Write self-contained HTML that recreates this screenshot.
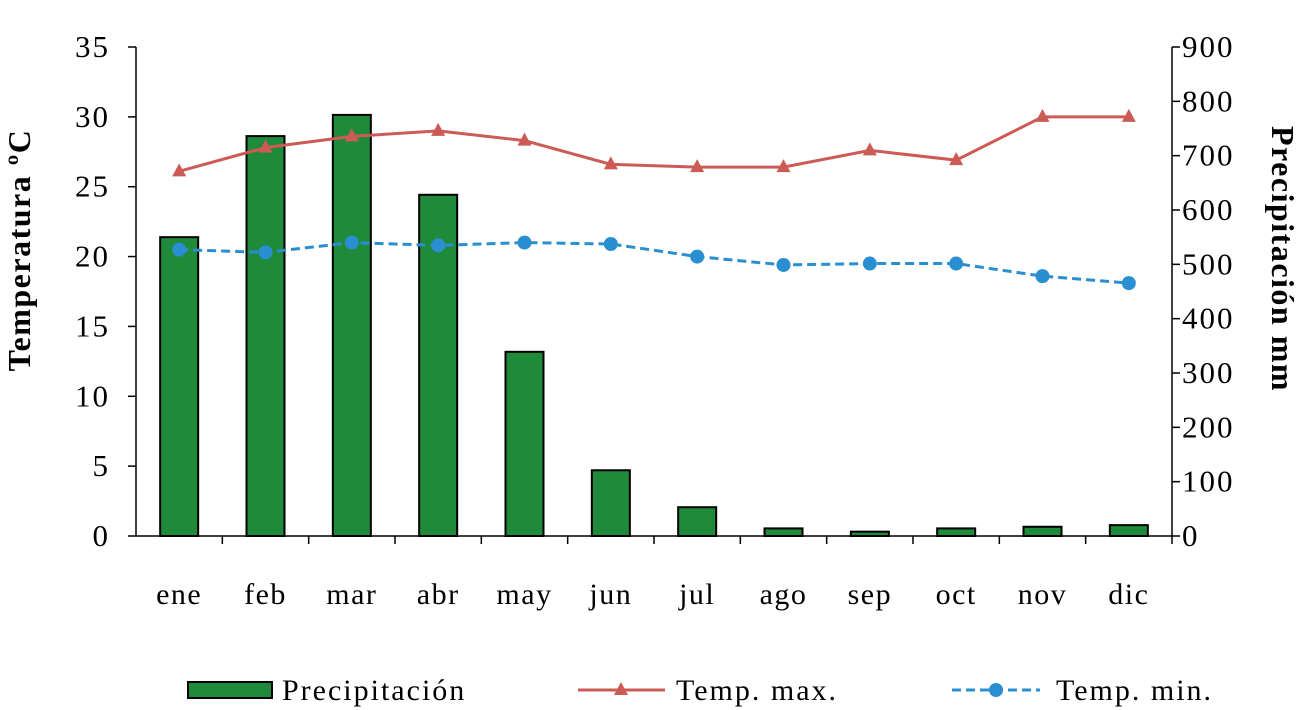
<!DOCTYPE html>
<html><head><meta charset="utf-8">
<style>
html,body{margin:0;padding:0;background:#fff;}
svg{display:block;font-family:"Liberation Serif",serif;}
</style></head>
<body>
<svg id="chart" width="1299" height="710">
</svg>
<script>
const categories=["ene","feb","mar","abr","may","jun","jul","ago","sep","oct","nov","dic"];
const precipitation=[550,736,775,628,339,121,53,14,8,14,17,20];
const tempMax=[26.1,27.8,28.6,29.0,28.3,26.6,26.4,26.4,27.6,26.9,30.0,30.0];
const tempMin=[20.5,20.3,21.0,20.8,21.0,20.9,20.0,19.4,19.5,19.5,18.6,18.1];
const leftTicks=[0,5,10,15,20,25,30,35];
const rightTicks=[0,100,200,300,400,500,600,700,800,900];

const NS="http://www.w3.org/2000/svg";
const svg=document.getElementById('chart');
const X0=136,X1=1172,Y0=536,Y1=47;
const bw=(X1-X0)/categories.length;
const xc=i=>X0+bw*(i+0.5);
const yL=v=>Y0-(v/35)*(Y0-Y1);
const yR=v=>Y0-(v/900)*(Y0-Y1);
function mk(tag,attrs,parent){const e=document.createElementNS(NS,tag);for(const k in attrs)e.setAttribute(k,attrs[k]);(parent||svg).appendChild(e);return e;}

precipitation.forEach((v,i)=>{
 const r=mk('rect',{x:xc(i)-19,y:yR(v),width:38,height:Y0-yR(v),fill:'#1f8a3a',stroke:'#000','stroke-width':2});
 
 
});
const ax=mk('g',{stroke:'#000','stroke-width':1.5});


mk('line',{x1:X0,y1:Y1,x2:X0,y2:Y0},ax);
mk('line',{x1:X1,y1:Y1,x2:X1,y2:Y0},ax);
mk('line',{x1:X0,y1:Y0,x2:X1,y2:Y0},ax);
leftTicks.forEach(v=>{
 mk('line',{x1:X0-8,y1:yL(v),x2:X0,y2:yL(v)},ax);
 const t=mk('text',{x:X0-26,y:yL(v)+10,'text-anchor':'end','font-size':31,'letter-spacing':2,fill:'#000',stroke:'none'});t.textContent=v;
 
 
});
rightTicks.forEach(v=>{
 mk('line',{x1:X1,y1:yR(v),x2:X1+8,y2:yR(v)},ax);
 const t=mk('text',{x:X1+10,y:yR(v)+10,'text-anchor':'start','font-size':31,'letter-spacing':2,fill:'#000',stroke:'none'});t.textContent=v;
 
 
});
categories.forEach((c,i)=>{
 mk('line',{x1:X0+bw*(i+1),y1:Y0,x2:X0+bw*(i+1),y2:Y0+8},ax);
 const t=mk('text',{x:xc(i),y:604,'text-anchor':'middle','font-size':30,'letter-spacing':1.5,fill:'#000',stroke:'none'});t.textContent=c;
 
 
});
const pMax=mk('polyline',{points:tempMax.map((v,i)=>xc(i)+','+yL(v)).join(' '),fill:'none',stroke:'#cc5b55','stroke-width':3});


tempMax.forEach((v,i)=>{
 const x=xc(i),y=yL(v);
 const m=mk('polygon',{points:`${x},${y-8} ${x-7},${y+5} ${x+7},${y+5}`,fill:'#cc5b55'});
 
 
});
const pMin=mk('polyline',{points:tempMin.map((v,i)=>xc(i)+','+yL(v)).join(' '),fill:'none',stroke:'#2a8fd0','stroke-width':3,'stroke-dasharray':'9,5'});


tempMin.forEach((v,i)=>{
 const m=mk('circle',{cx:xc(i),cy:yL(v),r:7,fill:'#2a8fd0'});
 
 
});
const lt=mk('text',{x:0,y:0,transform:'translate(30,250) rotate(-90)','text-anchor':'middle','font-size':32,'font-weight':'bold','letter-spacing':1.5,fill:'#000'});
lt.textContent='Temperatura ºC';


const rt=mk('text',{x:0,y:0,transform:'translate(1272,259) rotate(90)','text-anchor':'middle','font-size':32,'font-weight':'bold','letter-spacing':1.5,fill:'#000'});
rt.textContent='Precipitación mm';


const lg=mk('g',{});


mk('rect',{x:188,y:682,width:84,height:16,fill:'#1f8a3a',stroke:'#000','stroke-width':2},lg);
let t=mk('text',{x:282,y:700,'font-size':30,'letter-spacing':2},lg);t.textContent='Precipitación';
mk('line',{x1:578,y1:690,x2:665,y2:690,stroke:'#cc5b55','stroke-width':3},lg);
mk('polygon',{points:'621,682 614,695 628,695',fill:'#cc5b55'},lg);
t=mk('text',{x:676,y:700,'font-size':30,'letter-spacing':2},lg);t.textContent='Temp. max.';
mk('line',{x1:952,y1:690,x2:1040,y2:690,stroke:'#2a8fd0','stroke-width':3,'stroke-dasharray':'9,5'},lg);
mk('circle',{cx:996,cy:690,r:7,fill:'#2a8fd0'},lg);
t=mk('text',{x:1056,y:700,'font-size':30,'letter-spacing':2},lg);t.textContent='Temp. min.';
</script>
</body></html>
